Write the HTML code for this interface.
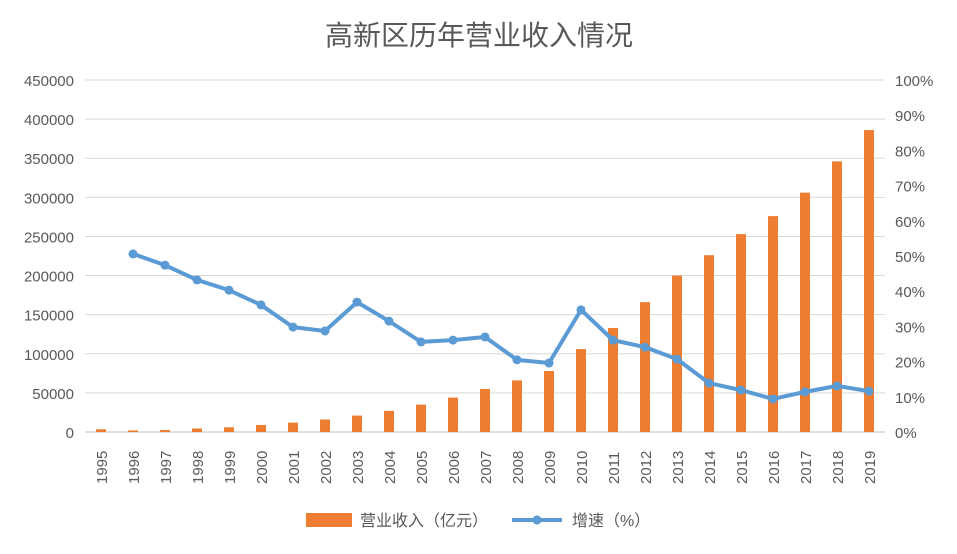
<!DOCTYPE html>
<html><head><meta charset="utf-8"><style>
body{margin:0;background:#fff;}
svg{display:block;font-family:"Liberation Sans","Noto Sans CJK SC",sans-serif;}
</style></head><body>
<svg id="c" width="957" height="554" viewBox="0 0 957 554" xmlns="http://www.w3.org/2000/svg">
<rect width="957" height="554" fill="#fff"/>
<text x="479" y="45" text-anchor="middle" font-size="28" fill="#595959">高新区历年营业收入情况</text>
<g id="g"></g>
<g transform="translate(306,520)">
<rect x="0" y="-7" width="46" height="14" fill="#ED7D31"/>
<text x="54" y="6" font-size="16" fill="#595959">营业收入（亿元）</text>
<line x1="206" y1="0" x2="256" y2="0" stroke="#5B9BD5" stroke-width="4"/>
<circle cx="231" cy="0" r="4.5" fill="#5B9BD5"/>
<text x="266" y="6" font-size="16" fill="#595959">增速（%）</text>
</g>
</svg>
<script>
var g=document.getElementById('g'),s='';
var L=85,R=885,B=432,T=80,H=B-T;
for(var i=0;i<=9;i++){var y=B-H*i/9;
 s+='<line x1="'+L+'" x2="'+R+'" y1="'+y+'" y2="'+y+'" stroke="'+(i==0?'#BFBFBF':'#D9D9D9')+'" stroke-width="1"/>';
 s+='<text x="74" y="'+(y+6)+'" text-anchor="end" font-size="15" fill="#595959">'+(i*50000)+'</text>';
}
for(var i=0;i<=10;i++){var y=B-H*i/10;
 s+='<text x="895" y="'+(y+6)+'" font-size="15" fill="#595959">'+(i*10)+'%</text>';}
var bars=[3500,2000,2500,4500,6000,9000,12000,16000,21000,27000,35000,44000,55000,66000,78000,106000,133000,166000,200000,226000,253000,276000,306000,346000,386000];
var ln=[null,50.6,47.4,43.2,40.3,36.1,29.8,28.7,36.9,31.5,25.6,26.1,27,20.5,19.6,34.7,26.1,24.1,20.7,13.9,11.9,9.4,11.4,13.1,11.6];
var pts=[];
for(var i=0;i<25;i++){var cx=L+16+32*i,h=bars[i]/450000*H;
 s+='<rect x="'+(cx-5)+'" y="'+(B-h)+'" width="10" height="'+h+'" fill="#ED7D31"/>';
 s+='<text transform="translate('+(cx+6)+',484) rotate(-90)" font-size="15" fill="#595959">'+(1995+i)+'</text>';
 if(ln[i]!=null)pts.push([cx,B-ln[i]/100*H]);}
s+='<polyline fill="none" stroke="#5B9BD5" stroke-width="4" stroke-linejoin="round" points="'+pts.map(function(p){return p.join(',')}).join(' ')+'"/>';
pts.forEach(function(p){s+='<circle cx="'+p[0]+'" cy="'+p[1]+'" r="4.5" fill="#5B9BD5"/>';});
g.innerHTML=s;
</script>
</body></html>
